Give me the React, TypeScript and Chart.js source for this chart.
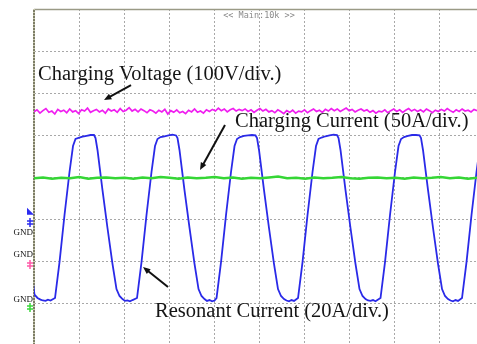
import React, { useEffect, useRef } from "react";
import { Chart, registerables } from "chart.js";

Chart.register(...registerables);

// Screen: 10 horizontal divisions x 8 vertical divisions (values in divisions)
const X_MAX = 9.844; // visible part of the 10-division screen
const Y_MAX = 8;
const Y_MIN = 0.024;

// Resonant current (blue), time in div, level in div
const blueTime = [
  -0.078, 0.011, 0.078, 0.144, 0.2, 0.256, 0.31, 0.367,
  0.467, 0.567, 0.678, 0.789, 0.867, 0.922, 0.989, 1.078, 1.167, 1.256, 1.333, 1.367, 1.411, 1.522, 1.633, 1.744, 1.833, 1.9, 1.967, 2.022, 2.078, 2.133, 2.189,
  2.289, 2.389, 2.5, 2.611, 2.689, 2.744, 2.811, 2.9, 2.989, 3.078, 3.156, 3.189, 3.233, 3.344, 3.456, 3.567, 3.656, 3.722, 3.789, 3.844, 3.9, 3.956, 4.011,
  4.056, 4.156, 4.267, 4.378, 4.456, 4.511, 4.578, 4.667, 4.756, 4.844, 4.922, 4.956, 5.0, 5.111, 5.222, 5.333, 5.422, 5.489, 5.556, 5.611, 5.667, 5.722, 5.778,
  5.867, 5.967, 6.078, 6.189, 6.267, 6.322, 6.389, 6.478, 6.567, 6.656, 6.733, 6.767, 6.811, 6.922, 7.033, 7.144, 7.233, 7.3, 7.367, 7.422, 7.478, 7.533, 7.589,
  7.7, 7.8, 7.911, 8.022, 8.1, 8.156, 8.222, 8.311, 8.4, 8.489, 8.567, 8.6, 8.644, 8.756, 8.867, 8.978, 9.067, 9.133, 9.2, 9.256, 9.311, 9.367, 9.422,
  9.511, 9.611, 9.722, 9.833, 9.911,
];
const blueLevel = [
  1.929, 1.2, 1.12, 1.08, 1.06, 1.05, 1.08, 1.06,
  1.119, 1.976, 3.095, 4.119, 4.738, 4.905, 4.93, 4.96, 4.98, 5.0, 5.0, 4.929, 4.643, 3.69, 2.786, 1.929, 1.333, 1.167, 1.095, 1.05, 1.06, 1.04, 1.07,
  1.119, 1.976, 3.095, 4.119, 4.738, 4.905, 4.95, 4.97, 4.99, 5.01, 4.99, 4.929, 4.643, 3.69, 2.786, 1.929, 1.333, 1.167, 1.095, 1.05, 1.07, 1.04, 1.06,
  1.119, 1.976, 3.095, 4.119, 4.738, 4.905, 4.95, 4.98, 4.99, 5.0, 4.99, 4.929, 4.643, 3.69, 2.786, 1.929, 1.333, 1.167, 1.095, 1.06, 1.04, 1.07, 1.05,
  1.119, 1.976, 3.095, 4.119, 4.738, 4.905, 4.94, 4.97, 4.99, 5.01, 5.0, 4.929, 4.643, 3.69, 2.786, 1.929, 1.333, 1.167, 1.095, 1.06, 1.05, 1.07, 1.04,
  1.119, 1.976, 3.095, 4.119, 4.738, 4.905, 4.95, 4.98, 5.0, 5.0, 4.99, 4.929, 4.643, 3.69, 2.786, 1.929, 1.333, 1.167, 1.095, 1.06, 1.04, 1.07, 1.05,
  1.119, 1.976, 3.095, 4.119, 4.738,
];

// Charging voltage (magenta), sampled evenly across the screen
const magentaLevel = [
  5.55, 5.60, 5.52, 5.58, 5.63, 5.54, 5.57, 5.50, 5.61, 5.56,
  5.59, 5.53, 5.62, 5.55, 5.58, 5.51, 5.60, 5.57, 5.64, 5.54,
  5.58, 5.61, 5.55, 5.59, 5.52, 5.62, 5.57, 5.60, 5.54, 5.63,
  5.56, 5.59, 5.65, 5.57, 5.61, 5.55, 5.62, 5.58, 5.53, 5.60,
  5.57, 5.52, 5.59, 5.55, 5.61, 5.50, 5.58, 5.54, 5.60, 5.53,
  5.56, 5.51, 5.59, 5.55, 5.62, 5.54, 5.57, 5.52, 5.60, 5.56,
  5.61, 5.57, 5.64, 5.58, 5.62, 5.55, 5.60, 5.63, 5.57, 5.61,
  5.58, 5.62, 5.56, 5.60, 5.54, 5.59, 5.63, 5.57, 5.61, 5.55,
  5.58, 5.53, 5.60, 5.56, 5.51, 5.58, 5.54, 5.59, 5.52, 5.57,
  5.55, 5.60, 5.53, 5.58, 5.62, 5.56, 5.59, 5.54, 5.61, 5.57,
  5.63, 5.58, 5.62, 5.56, 5.60, 5.64, 5.58, 5.61, 5.55, 5.59,
  5.62, 5.57, 5.60, 5.54, 5.58, 5.52, 5.57, 5.55, 5.60, 5.53,
  5.58, 5.62, 5.56, 5.60, 5.54, 5.59, 5.63, 5.57, 5.61, 5.56,
  5.60, 5.55, 5.62, 5.58, 5.53, 5.59, 5.56, 5.61, 5.57, 5.63,
  5.58, 5.54, 5.60, 5.56, 5.62, 5.57, 5.59, 5.55, 5.61, 5.58,
];

// Charging current (green), sampled evenly across the screen
const greenLevel = [
  3.97, 3.99, 3.96, 3.98, 3.97, 4.00, 3.96, 3.98, 3.99, 3.97,
  3.98, 3.96, 3.99, 3.97, 4.00, 3.98, 3.96, 3.99, 3.97, 3.98,
  4.00, 3.97, 3.99, 3.96, 3.98, 3.97, 3.99, 4.01, 3.97, 3.98,
  3.96, 3.99, 3.97, 3.98, 4.00, 3.97, 3.96, 3.98, 3.99, 3.97,
  3.98, 3.96, 3.99, 3.97, 3.98, 4.00, 3.97, 3.99, 3.96, 3.98,
];

// Annotation labels (text, left x, baseline y in divisions)
const labelTexts = ["Charging Voltage (100V/div.)", "Charging Current (50A/div.)", "Resonant Current (20A/div.)"];
const labelX = [0.09, 4.467, 2.69];
const labelY = [6.31, 5.19, 0.667];

// Arrows: from (x0,y0) to head (x1,y1), in divisions
const arrowFromX = [2.156, 4.244, 2.978];
const arrowFromY = [6.19, 5.238, 1.381];
const arrowToX = [1.556, 3.689, 2.422];
const arrowToY = [5.833, 4.167, 1.857];

// Channel ground markers (level in div) and GND text levels
const groundLevels = [2.905, 1.905, 0.881];
const groundColors = ["#2b2bf0", "#ff5aa8", "#3ad83a"];
const gndTextLevels = [2.667, 2.143, 1.071];
const triggerLevel = 3.17;
const headerText = "<< Main:10k >>";

function evenSeries(values: number[]) {
  const step = X_MAX / (values.length - 1);
  return values.map((v, i) => ({ x: i * step, y: v }));
}

const overlayPlugin = {
  id: "scopeOverlay",
  beforeDatasetsDraw(chart: any) {
    const { ctx, chartArea } = chart;
    ctx.save();
    // top border
    ctx.strokeStyle = "#9a9a86";
    ctx.lineWidth = 1.5;
    ctx.beginPath();
    ctx.moveTo(chartArea.left, chartArea.top + 0.5);
    ctx.lineTo(chartArea.right, chartArea.top + 0.5);
    ctx.stroke();
    // left border
    ctx.strokeStyle = "#7d7d66";
    ctx.lineWidth = 2;
    ctx.beginPath();
    ctx.moveTo(chartArea.left, chartArea.top);
    ctx.lineTo(chartArea.left, chartArea.bottom + 2);
    ctx.stroke();
    ctx.strokeStyle = "#c9c9b0";
    ctx.lineWidth = 2;
    ctx.setLineDash([1, 2]);
    ctx.beginPath();
    ctx.moveTo(chartArea.left, chartArea.top);
    ctx.lineTo(chartArea.left, chartArea.bottom + 2);
    ctx.stroke();
    ctx.setLineDash([]);
    // header
    const xs = chart.scales.x;
    ctx.fillStyle = "#8a8a8a";
    ctx.font = '8.5px "DejaVu Sans Mono"';
    ctx.textAlign = "center";
    ctx.textBaseline = "middle";
    ctx.fillText(headerText, xs.getPixelForValue(5), chartArea.top + 7);
    ctx.restore();
  },
  afterDatasetsDraw(chart: any) {
    const { ctx } = chart;
    const xs = chart.scales.x;
    const ys = chart.scales.y;
    ctx.save();
    // labels
    ctx.fillStyle = "#151515";
    ctx.font = '20.5px "Liberation Serif"';
    ctx.textAlign = "left";
    ctx.textBaseline = "alphabetic";
    labelTexts.forEach((t, i) => {
      ctx.fillText(t, xs.getPixelForValue(labelX[i]), ys.getPixelForValue(labelY[i]));
    });
    // arrows
    ctx.strokeStyle = "#111";
    ctx.fillStyle = "#111";
    ctx.lineWidth = 2;
    labelTexts.forEach((_, i) => {
      const x0 = xs.getPixelForValue(arrowFromX[i]);
      const y0 = ys.getPixelForValue(arrowFromY[i]);
      const x1 = xs.getPixelForValue(arrowToX[i]);
      const y1 = ys.getPixelForValue(arrowToY[i]);
      const a = Math.atan2(y1 - y0, x1 - x0);
      const hl = 8;
      const bx = x1 - Math.cos(a) * hl * 0.8;
      const by = y1 - Math.sin(a) * hl * 0.8;
      ctx.beginPath();
      ctx.moveTo(x0, y0);
      ctx.lineTo(bx, by);
      ctx.stroke();
      ctx.beginPath();
      ctx.moveTo(x1, y1);
      ctx.lineTo(x1 - hl * Math.cos(a - 0.4), y1 - hl * Math.sin(a - 0.4));
      ctx.lineTo(x1 - hl * Math.cos(a + 0.4), y1 - hl * Math.sin(a + 0.4));
      ctx.closePath();
      ctx.fill();
    });
    // ground markers
    const mx = xs.left - 4;
    groundLevels.forEach((lv, i) => {
      const py = ys.getPixelForValue(lv);
      ctx.strokeStyle = groundColors[i];
      ctx.lineWidth = 1.5;
      ctx.beginPath();
      ctx.moveTo(mx, py - 5);
      ctx.lineTo(mx, py + 4);
      ctx.moveTo(mx - 3, py - 2);
      ctx.lineTo(mx + 3, py - 2);
      ctx.moveTo(mx - 3, py + 1);
      ctx.lineTo(mx + 3, py + 1);
      ctx.stroke();
    });
    // trigger flag
    const ty = ys.getPixelForValue(triggerLevel);
    ctx.fillStyle = groundColors[0];
    ctx.beginPath();
    ctx.moveTo(mx - 3, ty - 4);
    ctx.lineTo(mx - 3, ty + 3);
    ctx.lineTo(mx + 4, ty + 3);
    ctx.closePath();
    ctx.fill();
    // GND texts
    ctx.fillStyle = "#111";
    ctx.font = '9px "Liberation Serif"';
    ctx.textAlign = "right";
    ctx.textBaseline = "middle";
    gndTextLevels.forEach((lv) => {
      ctx.fillText("GND", xs.left - 1, ys.getPixelForValue(lv));
    });
    ctx.restore();
  },
};

export default function App() {
  const ref = useRef<HTMLCanvasElement | null>(null);
  useEffect(() => {
    if (!ref.current) return;
    const bluePoints = blueTime.map((t, i) => ({ x: t, y: blueLevel[i] }));
    const chart = new Chart(ref.current, {
      type: "line",
      data: {
        datasets: [
          {
            label: "Charging Voltage",
            data: evenSeries(magentaLevel),
            borderColor: "#f01ef0",
            borderWidth: 1.7,
            pointRadius: 0,
            tension: 0,
          },
          {
            label: "Charging Current",
            data: evenSeries(greenLevel),
            borderColor: "#35d635",
            borderWidth: 2.5,
            pointRadius: 0,
            tension: 0,
          },
          {
            label: "Resonant Current",
            data: bluePoints,
            borderColor: "#2a2ae8",
            borderWidth: 1.8,
            pointRadius: 0,
            tension: 0,
          },
        ],
      },
      options: {
        animation: false,
        responsive: false,
        events: [],
        layout: { padding: { left: 34, top: 9, right: 0, bottom: 0 } },
        plugins: { legend: { display: false }, tooltip: { enabled: false } },
        scales: {
          x: {
            type: "linear",
            min: 0,
            max: X_MAX,
            afterBuildTicks: (axis: any) => {
              const out = [];
              for (let v = 0; v <= axis.max; v += 1) out.push({ value: v });
              axis.ticks = out;
            },
            ticks: { display: false },
            grid: { color: "#a8a8a8", lineWidth: 1, drawTicks: false },
            border: { display: false, dash: [2, 2] },
          },
          y: {
            type: "linear",
            min: Y_MIN,
            max: Y_MAX,
            afterBuildTicks: (axis: any) => {
              const out = [];
              for (let v = 1; v <= axis.max; v += 1) out.push({ value: v });
              axis.ticks = out;
            },
            ticks: { display: false },
            grid: { color: "#a8a8a8", lineWidth: 1, drawTicks: false },
            border: { display: false, dash: [2, 2] },
          },
        },
      },
      plugins: [overlayPlugin],
    });
    return () => chart.destroy();
  }, []);
  return (
    <div style={{ position: "absolute", left: 0, top: 0, width: 477, height: 344, background: "#fff" }}>
      <canvas ref={ref} width={477} height={344} style={{ display: "block" }} />
    </div>
  );
}
